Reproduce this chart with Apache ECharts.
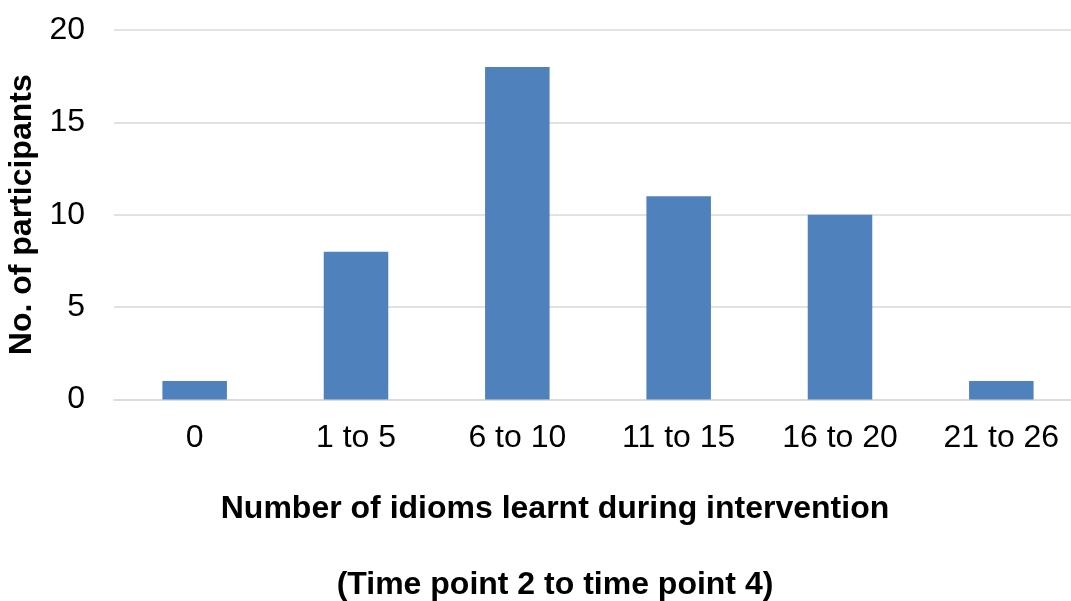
<!DOCTYPE html>
<html>
<head>
<meta charset="utf-8">
<script src="https://cdn.jsdelivr.net/npm/echarts@6/dist/echarts.min.js"></script>
<style>
  html, body { margin: 0; padding: 0; background: #ffffff; }
  #chart { width: 1071px; height: 601px; }
</style>
</head>
<body>
<div id="chart"></div>
<script>
// Idioms learnt between time point 2 and time point 4
const categories = ['0', '1 to 5', '6 to 10', '11 to 15', '16 to 20', '21 to 26'];
const participants = [1, 8, 18, 11, 10, 1];
const yTicks = [0, 5, 10, 15, 20];

const FONT = '"Liberation Sans", Arial, sans-serif';

const chart = echarts.init(document.getElementById('chart'), null, { renderer: 'canvas' });

chart.setOption({
  animation: false,
  backgroundColor: '#ffffff',
  grid: {
    left: 114, top: 30, right: -11, height: 369.5,
    containLabel: false,
    outerBoundsMode: 'none'
  },
  xAxis: {
    type: 'category',
    data: categories,
    axisLine: { show: true, lineStyle: { color: '#d9d9d9', width: 1.5 } },
    axisTick: { show: false },
    axisLabel: { color: '#000000', fontFamily: FONT, fontSize: 32, margin: 23 },
    splitLine: { show: false }
  },
  yAxis: {
    type: 'value',
    min: yTicks[0],
    max: yTicks[yTicks.length - 1],
    interval: yTicks[1] - yTicks[0],
    name: 'No. of participants',
    nameLocation: 'middle',
    nameRotate: 90,
    nameGap: 73,
    nameTextStyle: { color: '#000000', fontFamily: FONT, fontSize: 32, fontWeight: 'bold' },
    axisLine: { show: false },
    axisTick: { show: false },
    axisLabel: { color: '#000000', fontFamily: FONT, fontSize: 32, margin: 29 },
    splitLine: { show: true, lineStyle: { color: '#d9d9d9', width: 1.5 } }
  },
  series: [{
    type: 'bar',
    data: participants,
    barWidth: '40%',
    itemStyle: { color: '#4f81bd' }
  }],
  graphic: [
    {
      type: 'text',
      x: 555, y: 509,
      style: {
        text: 'Number of idioms learnt during intervention',
        font: 'bold 32px ' + FONT,
        fill: '#000000',
        textAlign: 'center',
        textVerticalAlign: 'middle'
      }
    },
    {
      type: 'text',
      x: 555, y: 585,
      style: {
        text: '(Time point 2 to time point 4)',
        font: 'bold 32px ' + FONT,
        fill: '#000000',
        textAlign: 'center',
        textVerticalAlign: 'middle'
      }
    }
  ]
});
</script>
</body>
</html>
